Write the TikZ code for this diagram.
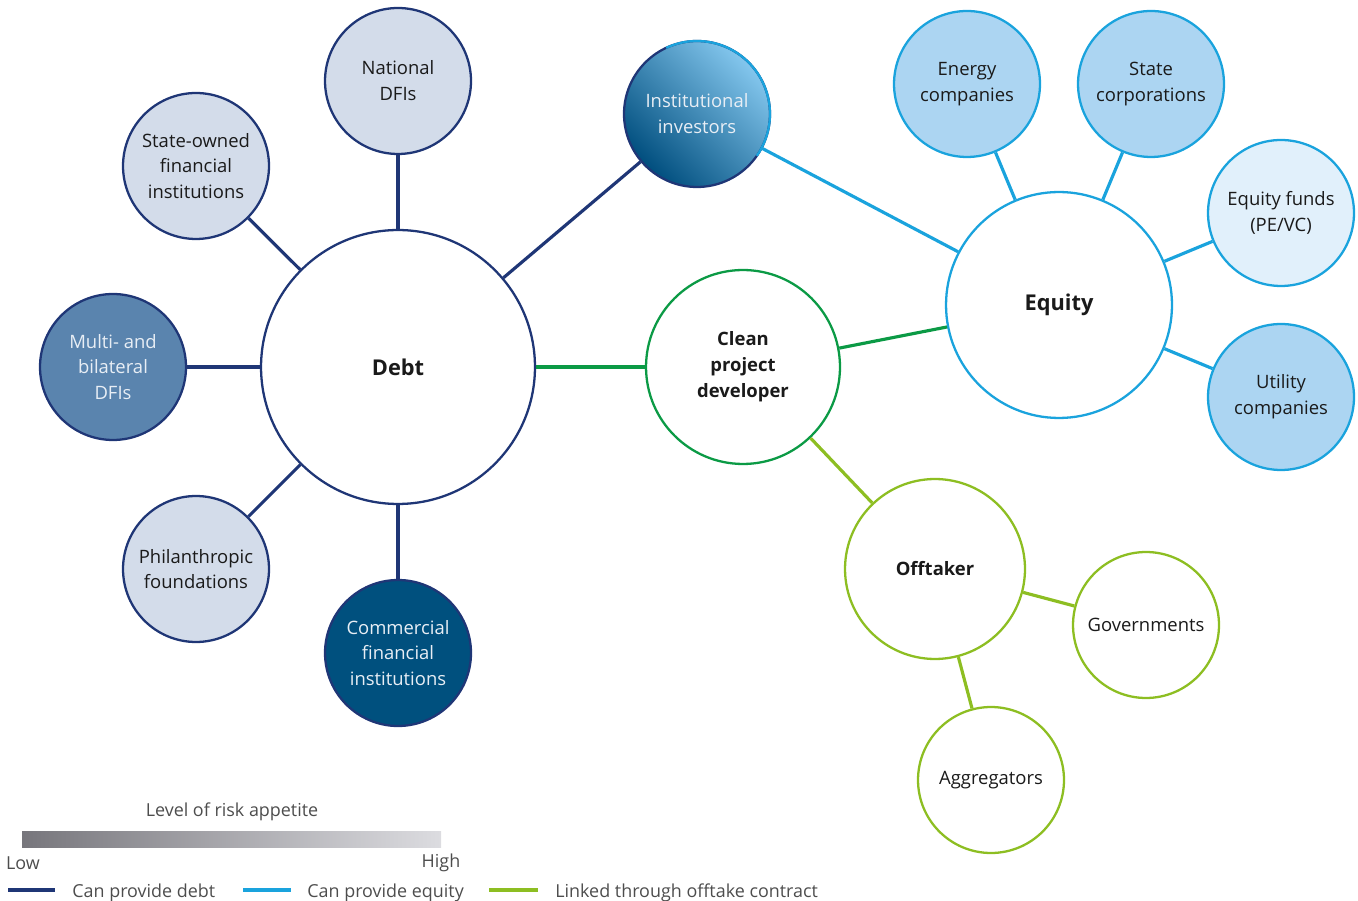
\documentclass[tikz,border=0pt]{standalone}
\usepackage{fontspec}
\setmainfont{Open Sans}
\usetikzlibrary{positioning}
\definecolor{navy}{HTML}{1F3676}
\definecolor{debtfill}{HTML}{D3DCEA}
\definecolor{multifill}{HTML}{5A84AE}
\definecolor{commfill}{HTML}{00507E}
\definecolor{eqblue}{HTML}{1AA3DD}
\definecolor{eqfill}{HTML}{ACD5F2}
\definecolor{fundfill}{HTML}{E1F0FB}
\definecolor{devgreen}{HTML}{0B9A45}
\definecolor{offgreen}{HTML}{8DBE22}
\definecolor{inkgray}{HTML}{1A1A1A}
\definecolor{paletext}{HTML}{E8EEF5}
\definecolor{legendgray}{HTML}{4D4D4D}
\definecolor{instlight}{HTML}{84C7EE}
\definecolor{instmid}{HTML}{146DAC}
\definecolor{instdark}{HTML}{004E7E}
\definecolor{barleft}{HTML}{77767C}
\definecolor{barright}{HTML}{DCDCE0}
\begin{document}
\begin{tikzpicture}[x=0.02cm, y=-0.02cm,
                    every node/.style={inner sep=0pt, align=center, text=inkgray,
                                       font=\fontsize{10.5}{14.7}\selectfont},
                    bubble/.style={circle, line width=1.3pt, minimum size=2.92cm},
                    debtsource/.style={bubble, draw=navy, fill=debtfill},
                    darksource/.style={bubble, draw=navy, text=paletext},
                    eqsource/.style={bubble, draw=eqblue, fill=eqfill},
                    offsource/.style={bubble, draw=offgreen, fill=white},
                    hub/.style={circle, line width=1.3pt, fill=white,
                                font=\fontsize{12.4}{16}\selectfont\bfseries},
                    debtlink/.style={navy, line width=1.8pt},
                    eqlink/.style={eqblue, line width=1.8pt},
                    devlink/.style={devgreen, line width=1.8pt},
                    offlink/.style={offgreen, line width=1.8pt},
                    legendtext/.style={anchor=west, text=legendgray,
                                       font=\fontsize{10.2}{12}\selectfont}]
  \useasboundingbox (0,0) rectangle (1358,901);

  % hubs
  \node[hub, draw=navy, minimum size=5.48cm](debt) at (398,367) {Debt};
  \node[hub, draw=eqblue, minimum size=4.52cm](equity) at (1059,305) {Equity};
  \node[hub, draw=devgreen, minimum size=3.88cm,
        font=\fontsize{10.5}{14.7}\selectfont\bfseries](clean) at (743,367) {Clean\\project\\developer};
  \node[hub, draw=offgreen, minimum size=3.6cm,
        font=\fontsize{10.5}{14.7}\selectfont\bfseries](offtaker) at (935,569) {Offtaker};

  % debt providers
  \node[debtsource](national) at (398,81) {National\\DFIs};
  \node[debtsource](stateowned) at (196,166) {State-owned\\financial\\institutions};
  \node[darksource, fill=multifill](multi) at (113,367) {Multi- and\\bilateral\\DFIs};
  \node[debtsource](philanthropic) at (196,569) {Philanthropic\\foundations};
  \node[darksource, fill=commfill](commercial) at (398,653) {Commercial\\financial\\institutions};
  \node[darksource, top color=instlight, middle color=instmid, bottom color=instdark,
        shading angle=-45](institutional) at (697,114) {Institutional\\investors};
  \draw[eqblue, line width=1.3pt] ([shift={(115:1.46cm)}]institutional.center)
    arc[start angle=115, end angle=-35, radius=1.46cm];

  % equity providers
  \node[eqsource](energy) at (967,84) {Energy\\companies};
  \node[eqsource](statecorp) at (1151,84) {State\\corporations};
  \node[eqsource, fill=fundfill](funds) at (1281,213) {Equity funds\\(PE/VC)};
  \node[eqsource](utility) at (1281,397) {Utility\\companies};

  % offtakers
  \node[offsource](governments) at (1146,625) {Governments};
  \node[offsource](aggregators) at (991,780) {Aggregators};

  \foreach \src in {national, stateowned, multi, philanthropic, commercial, institutional}
    \draw[debtlink] (debt) -- (\src);
  \foreach \src in {institutional, energy, statecorp, funds, utility}
    \draw[eqlink] (equity) -- (\src);
  \draw[devlink] (debt) -- (clean);
  \draw[devlink] (clean) -- (equity);
  \draw[offlink] (clean) -- (offtaker);
  \draw[offlink] (offtaker) -- (governments);
  \draw[offlink] (offtaker) -- (aggregators);

  % legend
  \node[legendtext, anchor=center](risk) at (232,812) {Level of risk appetite};
  \shade[left color=barleft, right color=barright] (22,831) rectangle (441,847);
  \node[legendtext, anchor=center](low) at (23,863) {Low};
  \node[legendtext, anchor=center](high) at (441,863) {High};
  \draw[debtlink, line width=2.2pt] (8,890) -- (55,890);
  \node[legendtext](keydebt) at (72,893) {Can provide debt};
  \draw[eqlink, line width=2.2pt] (243,890) -- (291,890);
  \node[legendtext](keyequity) at (307,893) {Can provide equity};
  \draw[offlink, line width=2.2pt] (489,890) -- (538,890);
  \node[legendtext](keyofftake) at (555,893) {Linked through offtake contract};
\end{tikzpicture}
\end{document}
